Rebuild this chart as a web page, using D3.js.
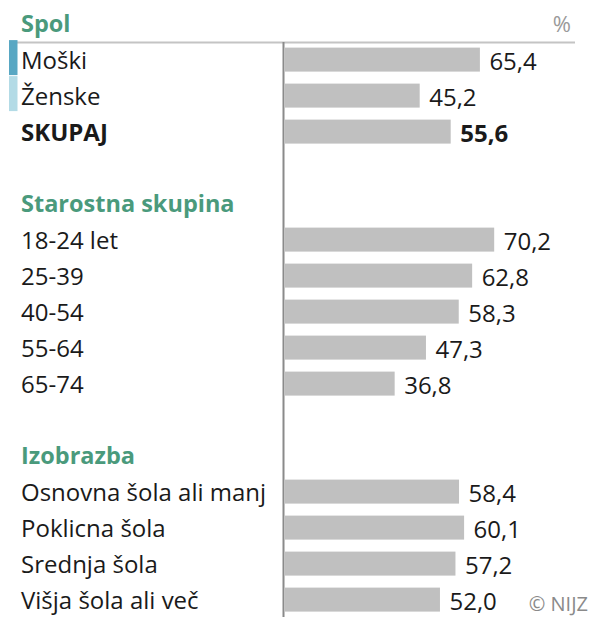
<!DOCTYPE html>
<html>
<head>
<meta charset="utf-8">
<script src="https://cdn.jsdelivr.net/npm/d3@7"></script>
<style>
  html, body { margin: 0; padding: 0; background: #fff; }
  svg { display: block; font-family: "Open Sans", "Noto Sans", sans-serif; }
</style>
</head>
<body>
<svg id="chart" width="591" height="617"></svg>
<script>
// ---- data ----
const groupTitles = ["Spol", "Starostna skupina", "Izobrazba"];
const spolCategories = ["Moški", "Ženske", "SKUPAJ"];
const spolValues = [65.4, 45.2, 55.6];
const ageCategories = ["18-24 let", "25-39", "40-54", "55-64", "65-74"];
const ageValues = [70.2, 62.8, 58.3, 47.3, 36.8];
const eduCategories = ["Osnovna šola ali manj", "Poklicna šola", "Srednja šola", "Višja šola ali več"];
const eduValues = [58.4, 60.1, 57.2, 52.0];
const unitLabel = "%";
const sourceLabel = "© NIJZ";

// ---- build rows ----
const rows = [];
function addGroup(title, cats, vals, gi) {
  rows.push({ key: "h" + gi, type: "header", label: title });
  cats.forEach((c, i) => rows.push({ key: "r" + gi + "_" + i, type: "bar", label: c, value: vals[i], group: gi, idx: i }));
}
addGroup(groupTitles[0], spolCategories, spolValues, 0);
rows.push({ key: "b0", type: "blank" });
addGroup(groupTitles[1], ageCategories, ageValues, 1);
rows.push({ key: "b1", type: "blank" });
addGroup(groupTitles[2], eduCategories, eduValues, 2);

const svg = d3.select("#chart");
const y = d3.scaleBand().domain(rows.map(r => r.key)).range([5.6, 5.6 + rows.length * 36.0]).padding(0);
const x = d3.scaleLinear().domain([0, 100]).range([285, 583]);
const barH = 24;
const green = "#4a9a7c";
const textColor = "#1a1a1a";
const fs = 24;

// header line
svg.append("line").attr("x1", 16).attr("x2", 575).attr("y1", 42.5).attr("y2", 42.5)
  .attr("stroke", "#c4c4c4").attr("stroke-width", 2);

// unit label
svg.append("text").attr("x", 571).attr("y", 31.5).attr("text-anchor", "end")
  .attr("font-size", 22).attr("fill", "#9a9a9a").text(unitLabel);

const center = r => y(r.key) + y.bandwidth() / 2;

// group markers (sex)
const markerColors = ["#58a7c3", "#b3dbe6"];
rows.filter(r => r.type === "bar" && r.group === 0 && r.idx < 2).forEach(r => {
  svg.append("rect").attr("x", 9).attr("width", 8.5)
    .attr("y", center(r) - 19.5).attr("height", 35)
    .attr("fill", markerColors[r.idx]);
});

// bars
const barRows = rows.filter(r => r.type === "bar");
svg.append("g").selectAll("rect").data(barRows).join("rect")
  .attr("x", x(0))
  .attr("y", d => center(d) - barH / 2)
  .attr("width", d => x(d.value) - x(0))
  .attr("height", barH)
  .attr("fill", "#c0c0c0");

// headers
svg.append("g").selectAll("text").data(rows.filter(r => r.type === "header")).join("text")
  .attr("x", 21).attr("y", d => center(d) + 8.5)
  .attr("font-size", 23.5).attr("font-weight", "bold").attr("fill", green)
  .text(d => d.label);

// category labels
svg.append("g").selectAll("text").data(barRows).join("text")
  .attr("x", 21).attr("y", d => center(d) + 9)
  .attr("font-size", fs)
  .attr("font-weight", d => d.label === "SKUPAJ" ? "bold" : "normal")
  .attr("fill", textColor)
  .text(d => d.label);

// value labels
const fmt = v => v.toFixed(1).replace(".", ",");
svg.append("g").selectAll("text").data(barRows).join("text")
  .attr("x", d => x(d.value) + 9.5).attr("y", d => center(d) + 10)
  .attr("font-size", fs)
  .attr("font-weight", d => d.label === "SKUPAJ" ? "bold" : "normal")
  .attr("fill", textColor)
  .text(d => fmt(d.value));

// vertical axis line
svg.append("line").attr("x1", 283.5).attr("x2", 283.5).attr("y1", 42).attr("y2", 617)
  .attr("stroke", "#8a8a8a").attr("stroke-width", 2);

// source
svg.append("text").attr("x", 588).attr("y", 610.5).attr("text-anchor", "end")
  .attr("font-size", 20).attr("fill", "#8a8a8a").text(sourceLabel);
</script>
</body>
</html>
